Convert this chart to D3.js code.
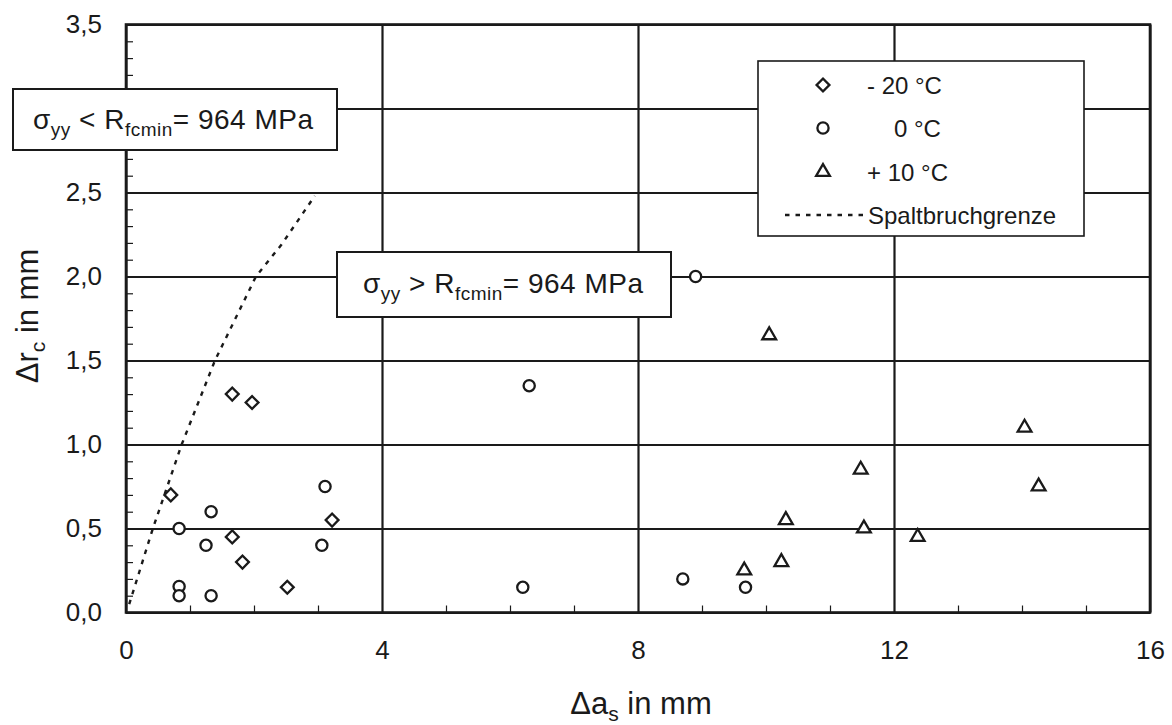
<!DOCTYPE html>
<html>
<head>
<meta charset="utf-8">
<script src="https://cdn.jsdelivr.net/npm/d3@7/dist/d3.min.js"></script>
<style>
  html, body { margin: 0; padding: 0; background: #fff; }
  svg { display: block; font-family: "Liberation Sans", Arial, Helvetica, sans-serif; }
</style>
</head>
<body>
<svg id="chart" width="1172" height="725"></svg>
<script>
// ---------------- data ----------------
const xMajorTicks = [0, 4, 8, 12, 16];
const yMajorTicks = [0, 0.5, 1.0, 1.5, 2.0, 2.5, 3.0, 3.5];
const yHiddenLabels = [3.0]; // covered by the annotation box in the original
const xMinorTicks = [1, 2, 3, 5, 6, 7, 9, 10, 11, 13, 14, 15];
const yMinorTicks = [0.1,0.2,0.3,0.4,0.6,0.7,0.8,0.9,1.1,1.2,1.3,1.4,1.6,1.7,1.8,1.9,2.1,2.2,2.3,2.4,2.6,2.7,2.8,2.9,3.1,3.2,3.3,3.4];

// -20 °C (diamonds)
const seriesMinus20 = [[0.70,0.70],[1.66,1.30],[1.97,1.25],[1.66,0.45],[1.82,0.30],[2.52,0.15],[3.22,0.55]];
// 0 °C (circles)
const series0 = [[0.83,0.50],[0.83,0.155],[0.83,0.10],[1.33,0.60],[1.25,0.40],[1.33,0.10],[3.11,0.75],[3.06,0.40],
                 [6.20,0.15],[6.30,1.35],[8.70,0.20],[9.68,0.15],[8.90,2.00]];
// +10 °C (triangles)
const seriesPlus10 = [[10.05,1.65],[14.04,1.10],[14.26,0.75],[11.48,0.85],[10.31,0.55],[11.53,0.50],[12.37,0.45],[10.24,0.30],[9.66,0.25]];
// Spaltbruchgrenze (dashed limit curve)
const limitCurve = [[0.05,0.05],[0.42,0.50],[0.87,1.00],[1.39,1.50],[2.03,2.00],[2.43,2.19],[2.95,2.48]];

const legendLabels = ["- 20 °C", "0 °C", "+ 10 °C", "Spaltbruchgrenze"];

// ---------------- layout ----------------
const svg = d3.select("#chart");
const X0 = 126, X1 = 1150, Y0 = 612.5, Y1 = 24.5;
const ink = "#1a1a1a";
const x = d3.scaleLinear().domain([0, 16]).range([X0, X1]);
const y = d3.scaleLinear().domain([0, 3.5]).range([Y0, Y1]);
const fmt = d => yHiddenLabels.includes(d) ? "" : d3.format(".1f")(d).replace(".", ",");

// grid (major) via axes
const gx = svg.append("g").attr("transform", `translate(0,${Y0})`)
  .call(d3.axisBottom(x).tickValues(xMajorTicks).tickSize(-(Y0 - Y1)).tickPadding(28).tickFormat(d3.format("d")));
const gy = svg.append("g").attr("transform", `translate(${X0},0)`)
  .call(d3.axisLeft(y).tickValues(yMajorTicks).tickSize(-(X1 - X0)).tickPadding(24).tickFormat(fmt));
[gx, gy].forEach(g => {
  g.select(".domain").remove();
  g.selectAll(".tick line").attr("stroke", ink).attr("stroke-width", 2.2);
  g.selectAll(".tick text").attr("fill", ink).style("font-size", "26px")
    .style("font-family", '"Liberation Sans", Arial, sans-serif');
});

// minor ticks (inside)
const mx = svg.append("g").attr("transform", `translate(0,${Y0})`)
  .call(d3.axisBottom(x).tickValues(xMinorTicks).tickSize(-7).tickFormat(""));
const my = svg.append("g").attr("transform", `translate(${X0},0)`)
  .call(d3.axisLeft(y).tickValues(yMinorTicks).tickSize(-7).tickFormat(""));
[mx, my].forEach(g => {
  g.select(".domain").remove();
  g.selectAll(".tick line").attr("stroke", ink).attr("stroke-width", 1.2);
});

// frame
svg.append("rect").attr("x", X0).attr("y", Y1).attr("width", X1 - X0).attr("height", Y0 - Y1)
  .attr("fill", "none").attr("stroke", ink).attr("stroke-width", 2.6);

// limit curve
svg.append("path").datum(limitCurve)
  .attr("d", d3.line().x(d => x(d[0])).y(d => y(d[1])))
  .attr("fill", "none").attr("stroke", ink).attr("stroke-width", 2.4).attr("stroke-dasharray", "4.5,6");

// annotation box helper
function annBox(bx, by, bw, bh, tx, ty, rel) {
  svg.append("rect").attr("x", bx).attr("y", by).attr("width", bw).attr("height", bh)
    .attr("fill", "#fff").attr("stroke", ink).attr("stroke-width", 2);
  const t = svg.append("text").attr("x", tx).attr("y", ty).attr("fill", ink)
    .style("font-size", "28px").style("letter-spacing", "0.5px");
  t.append("tspan").text("σ");
  t.append("tspan").attr("dy", 7).style("font-size", "19px").text("yy");
  t.append("tspan").attr("dy", -7).text(" " + rel + " R");
  t.append("tspan").attr("dy", 7).style("font-size", "19px").text("fcmin");
  t.append("tspan").attr("dy", -7).text("= 964 MPa");
}
annBox(13, 89, 324, 61, 33, 129, "<");
annBox(337, 252, 334, 65, 363, 293, ">");

// markers
const diamondPath = d3.symbol().type(d3.symbolSquare).size(82)();
const trianglePath = d3.symbol().type(d3.symbolTriangle).size(82)();
svg.append("g").selectAll("path").data(seriesMinus20).join("path")
  .attr("d", diamondPath)
  .attr("transform", d => `translate(${x(d[0])},${y(d[1])}) rotate(45)`)
  .attr("fill", "#fff").attr("stroke", ink).attr("stroke-width", 2.3);
svg.append("g").selectAll("circle").data(series0).join("circle")
  .attr("cx", d => x(d[0])).attr("cy", d => y(d[1])).attr("r", 5.6)
  .attr("fill", "#fff").attr("stroke", ink).attr("stroke-width", 2.3);
svg.append("g").selectAll("path").data(seriesPlus10).join("path")
  .attr("d", trianglePath)
  .attr("transform", d => `translate(${x(d[0])},${y(d[1])})`)
  .attr("fill", "#fff").attr("stroke", ink).attr("stroke-width", 2.3);

// legend
const L = svg.append("g");
L.append("rect").attr("x", 758).attr("y", 61).attr("width", 326).attr("height", 175)
  .attr("fill", "#fff").attr("stroke", ink).attr("stroke-width", 1.6);
const rowY = [85, 128, 172, 215];
L.append("path").attr("d", diamondPath).attr("transform", `translate(823,${rowY[0]}) rotate(45)`)
  .attr("fill", "#fff").attr("stroke", ink).attr("stroke-width", 2.3);
L.append("circle").attr("cx", 823).attr("cy", rowY[1]).attr("r", 5.6)
  .attr("fill", "#fff").attr("stroke", ink).attr("stroke-width", 2.3);
L.append("path").attr("d", trianglePath).attr("transform", `translate(823,${rowY[2]})`)
  .attr("fill", "#fff").attr("stroke", ink).attr("stroke-width", 2.3);
L.append("line").attr("x1", 785).attr("x2", 863).attr("y1", rowY[3]).attr("y2", rowY[3])
  .attr("stroke", ink).attr("stroke-width", 2.4).attr("stroke-dasharray", "4.5,6");
const textX = [867, 894, 867, 868];
legendLabels.forEach((s, i) => {
  L.append("text").attr("x", textX[i]).attr("y", rowY[i] + 8.5).attr("fill", ink)
    .style("font-size", "24px").text(s);
});

// axis titles
const xt = svg.append("text").attr("x", 641).attr("y", 714).attr("text-anchor", "middle")
  .attr("fill", ink).style("font-size", "31px");
xt.append("tspan").text("Δa");
xt.append("tspan").attr("dy", 7).style("font-size", "21px").text("s");
xt.append("tspan").attr("dy", -7).text(" in mm");

const yt = svg.append("text").attr("transform", "translate(38,316) rotate(-90)").attr("text-anchor", "middle")
  .attr("fill", ink).style("font-size", "31px");
yt.append("tspan").text("Δr");
yt.append("tspan").attr("dy", 7).style("font-size", "21px").text("c");
yt.append("tspan").attr("dy", -7).text(" in mm");
</script>
</body>
</html>
